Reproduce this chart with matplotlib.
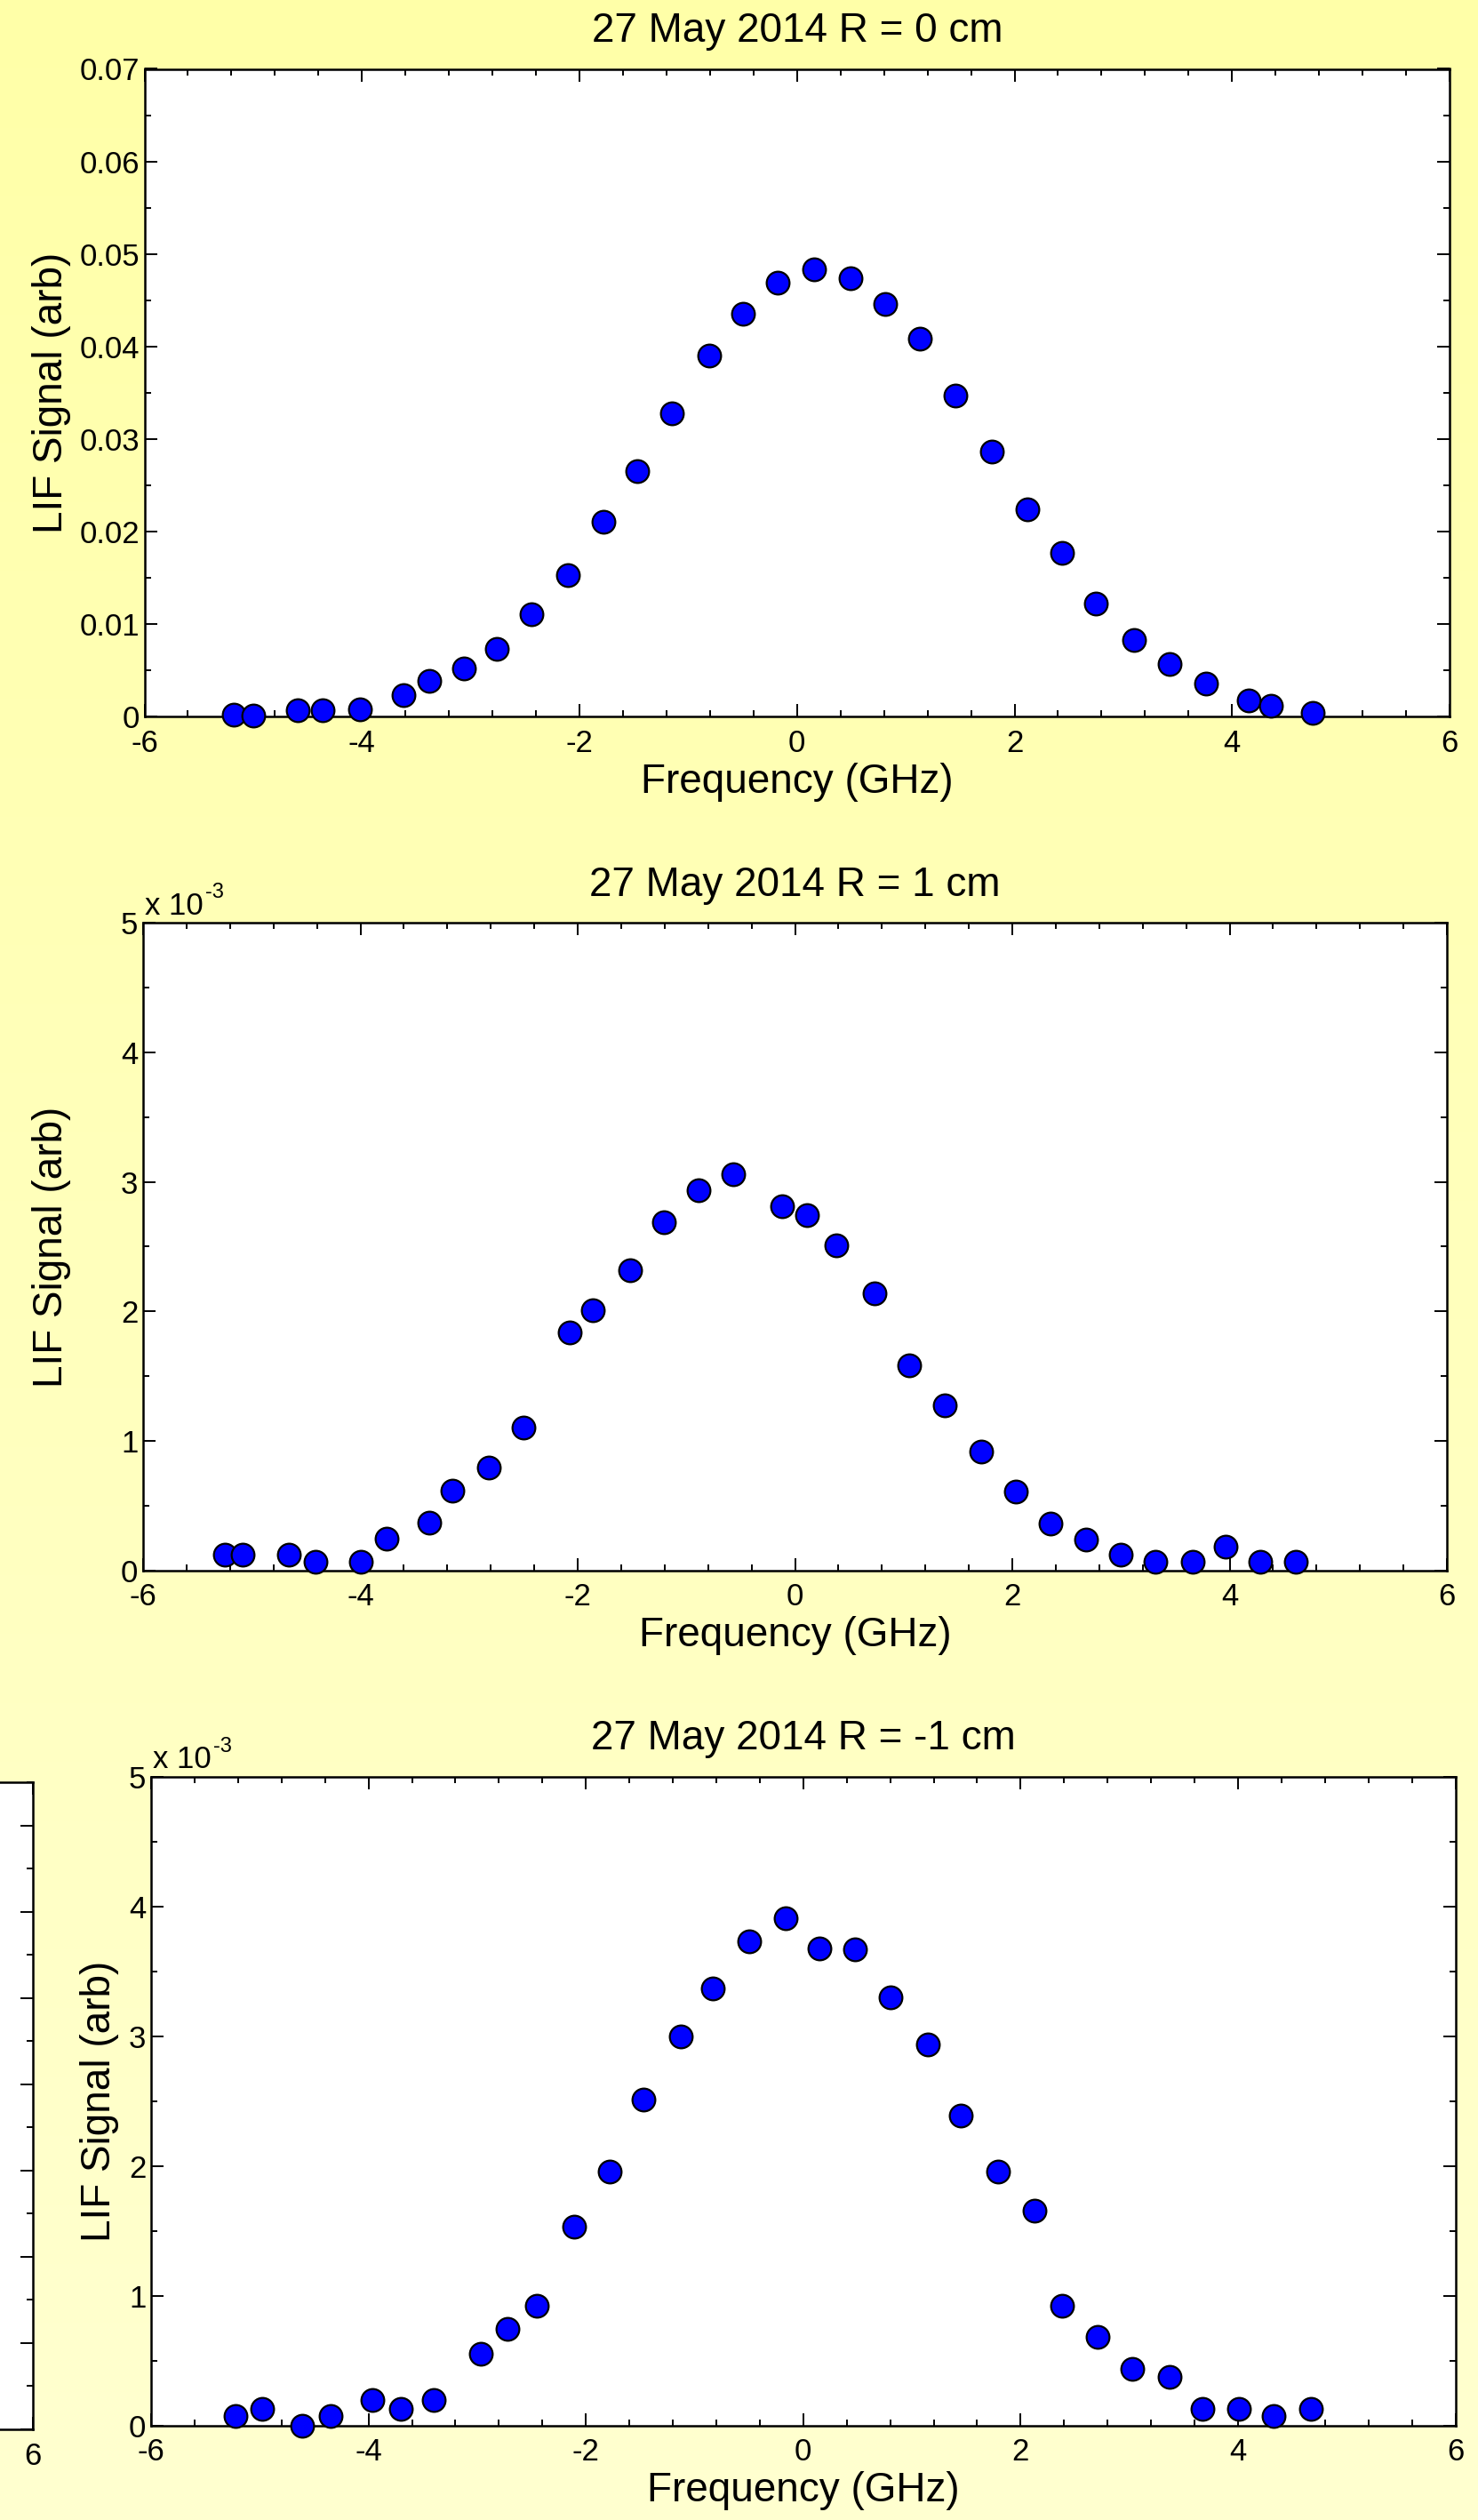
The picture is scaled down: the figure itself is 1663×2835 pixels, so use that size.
import numpy as np
import matplotlib
matplotlib.use("Agg")
import matplotlib.pyplot as plt
from matplotlib.ticker import MultipleLocator, FuncFormatter

plt.rcParams["font.family"] = ["Liberation Sans", "DejaVu Sans"]
plt.rcParams["axes.unicode_minus"] = False

# LIF scans, 27 May 2014
titles = ["27 May 2014 R = 0 cm", "27 May 2014 R = 1 cm", "27 May 2014 R = -1 cm"]

freq_r0 = [-5.18, -5.00, -4.59, -4.36, -4.02, -3.62, -3.38, -3.06, -2.76, -2.44,
           -2.11, -1.78, -1.47, -1.15, -0.81, -0.50, -0.18, 0.16, 0.49, 0.81,
           1.13, 1.46, 1.79, 2.12, 2.44, 2.75, 3.10, 3.43, 3.76, 4.15, 4.36, 4.74]
lif_r0 = [0.00024, 0.00010, 0.00067, 0.00067, 0.00080, 0.00226, 0.00384, 0.00520,
          0.00730, 0.01105, 0.01528, 0.02105, 0.02648, 0.03272, 0.03902, 0.04354,
          0.04685, 0.04834, 0.04738, 0.04460, 0.04085, 0.03470, 0.02860, 0.02235,
          0.01768, 0.01225, 0.00822, 0.00567, 0.00356, 0.00173, 0.00115, 0.00038]

freq_r1 = [-5.25, -5.08, -4.66, -4.41, -4.00, -3.76, -3.37, -3.15, -2.82, -2.50,
           -2.07, -1.86, -1.52, -1.21, -0.89, -0.57, -0.12, 0.11, 0.38, 0.73,
           1.05, 1.38, 1.71, 2.03, 2.35, 2.68, 3.00, 3.32, 3.66, 3.96, 4.28, 4.61]
lif_r1 = [0.120e-3, 0.120e-3, 0.120e-3, 0.062e-3, 0.062e-3, 0.244e-3, 0.367e-3, 0.615e-3,
          0.793e-3, 1.102e-3, 1.834e-3, 2.012e-3, 2.318e-3, 2.689e-3, 2.936e-3, 3.060e-3,
          2.812e-3, 2.747e-3, 2.507e-3, 2.136e-3, 1.583e-3, 1.277e-3, 0.917e-3, 0.611e-3,
          0.364e-3, 0.240e-3, 0.120e-3, 0.062e-3, 0.062e-3, 0.182e-3, 0.062e-3, 0.062e-3]

freq_rm1 = [-5.22, -4.98, -4.61, -4.35, -3.96, -3.70, -3.40, -2.97, -2.72, -2.45,
            -2.11, -1.78, -1.47, -1.13, -0.83, -0.50, -0.16, 0.15, 0.48, 0.80,
            1.15, 1.45, 1.79, 2.13, 2.38, 2.71, 3.03, 3.37, 3.67, 4.01, 4.33, 4.67]
lif_rm1 = [0.069e-3, 0.127e-3, 0.000e-3, 0.069e-3, 0.195e-3, 0.127e-3, 0.195e-3, 0.552e-3,
           0.744e-3, 0.925e-3, 1.532e-3, 1.960e-3, 2.512e-3, 2.999e-3, 3.369e-3, 3.729e-3,
           3.910e-3, 3.674e-3, 3.670e-3, 3.300e-3, 2.940e-3, 2.389e-3, 1.960e-3, 1.655e-3,
           0.925e-3, 0.679e-3, 0.435e-3, 0.374e-3, 0.127e-3, 0.127e-3, 0.069e-3, 0.127e-3]

x_ticks = [-6, -4, -2, 0, 2, 4, 6]
y_max = [0.07, 5e-3, 5e-3]

W, H = 1663, 2835
DPI = 100
TICK_FS = 25
EXP_FS = 17
LABEL_FS = 33

fig = plt.figure(figsize=(W / DPI, H / DPI), dpi=DPI)

# yellow gradient background
bg = fig.add_axes([0, 0, 1, 1], zorder=-10)
grad = np.linspace(0, 1, 256)[:, None]
top_c = np.array([255, 255, 168]) / 255
bot_c = np.array([255, 255, 208]) / 255
img = top_c[None, None, :] * (1 - grad[:, :, None]) + bot_c[None, None, :] * grad[:, :, None]
bg.imshow(img, aspect="auto", extent=[0, 1, 0, 1])
bg.axis("off")


def add_px_axes(left, top, right, bottom):
    return fig.add_axes([left / W, 1 - bottom / H, (right - left) / W, (bottom - top) / H])


def style_axes(ax):
    for s in ax.spines.values():
        s.set_linewidth(1.8)
    ax.tick_params(which="both", direction="in", top=True, right=True,
                   width=1.4, labelsize=TICK_FS)
    ax.tick_params(which="major", length=10)
    ax.tick_params(which="minor", length=5)
    ax.tick_params(axis="x", pad=10)
    ax.tick_params(axis="y", pad=4)


# piece of a neighbouring plot cut off at the left edge
ax_cut = add_px_axes(37 - 1467, 2005, 37, 2733)
ax_cut.set_xlim(-6, 6)
ax_cut.set_ylim(0, 7.5)
ax_cut.set_xticks(x_ticks)
ax_cut.set_xticklabels(["" if t != 6 else str(t) for t in x_ticks])
ax_cut.xaxis.set_minor_locator(MultipleLocator(0.4))
ax_cut.yaxis.set_major_locator(MultipleLocator(1))
ax_cut.yaxis.set_minor_locator(MultipleLocator(0.5))
style_axes(ax_cut)
ax_cut.tick_params(labelleft=False)

boxes = [(162.5, 77.5, 1631, 806), (161, 1038.5, 1628, 1766.5), (170, 1999, 1637.5, 2728.5)]
series = [(freq_r0, lif_r0), (freq_r1, lif_r1), (freq_rm1, lif_rm1)]
ylabel_x = [70, 70, 124]

for i, (box, (fx, fy)) in enumerate(zip(boxes, series)):
    ax = add_px_axes(*box)
    ax.set_facecolor("white")
    ax.plot(fx, fy, "o", color="#0000ff", markeredgecolor="black",
            markersize=18.5, markeredgewidth=1.6, clip_on=False, zorder=3)
    ax.set_xlim(-6, 6)
    ax.set_ylim(0, y_max[i])
    ax.set_xticks(x_ticks)
    ax.xaxis.set_minor_locator(MultipleLocator(0.4))
    if i == 0:
        ax.yaxis.set_major_locator(MultipleLocator(0.01))
        ax.yaxis.set_minor_locator(MultipleLocator(0.005))
        ax.yaxis.set_major_formatter(FuncFormatter(lambda v, p: "0" if abs(v) < 1e-9 else f"{v:.2f}"))
    else:
        ax.yaxis.set_major_locator(MultipleLocator(1e-3))
        ax.yaxis.set_minor_locator(MultipleLocator(0.5e-3))
        ax.yaxis.set_major_formatter(FuncFormatter(lambda v, p: f"{v * 1e3:.0f}"))
        # MATLAB style exponent above the y axis
        ax.annotate("x 10", xy=(0, 1), xycoords="axes fraction",
                    xytext=(1.5, 7), textcoords="offset points",
                    ha="left", va="baseline", fontsize=TICK_FS)
        ax.annotate("-3", xy=(0, 1), xycoords="axes fraction",
                    xytext=(50.5, 20.5), textcoords="offset points",
                    ha="left", va="baseline", fontsize=EXP_FS)
    style_axes(ax)

    h_px = box[3] - box[1]
    w_px = box[2] - box[0]
    ax.set_xlabel("Frequency (GHz)", fontsize=LABEL_FS, va="baseline")
    ax.xaxis.set_label_coords(0.5, -86 / h_px)
    ax.set_ylabel("LIF Signal (arb)", fontsize=LABEL_FS, va="baseline")
    ax.yaxis.set_label_coords((ylabel_x[i] - box[0]) / w_px, 0.5)
    ax.annotate(titles[i], xy=(0.5, 1), xycoords="axes fraction",
                xytext=(0, 22), textcoords="offset points",
                ha="center", va="baseline", fontsize=LABEL_FS)

fig.savefig("out.png", dpi=DPI)
